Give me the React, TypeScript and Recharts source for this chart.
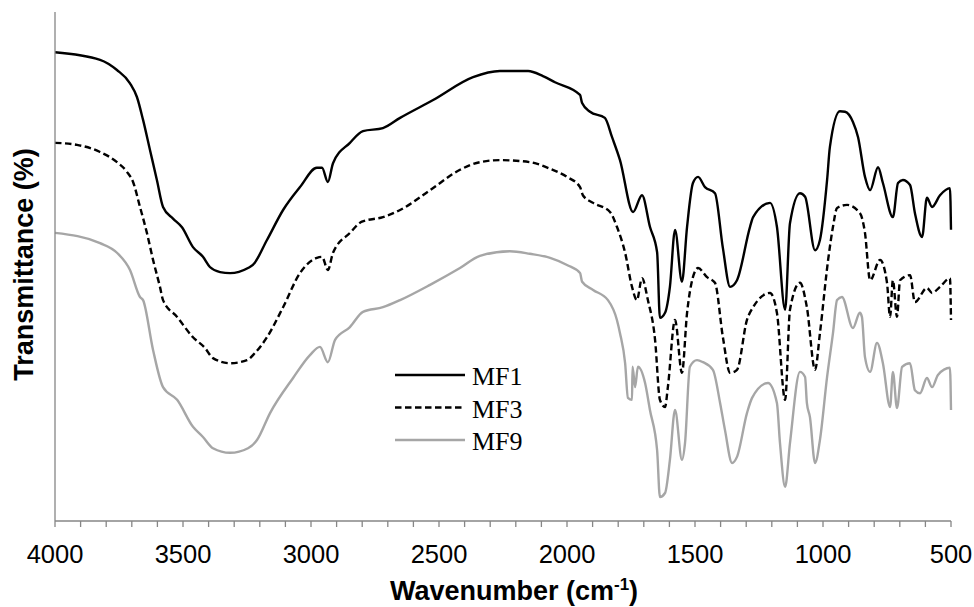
import React from 'react';
import { LineChart, Line, XAxis, YAxis, Legend } from 'recharts';

// [wavenumber (cm-1), transmittance (arbitrary %)]
const MF1: [number, number][] = [
  [4000, 92.1], [3824, 90.6], [3758, 88.6], [3707, 86.0], [3680, 83.3], [3656, 78.8], [3629, 72.9],
  [3602, 67.0], [3578, 61.7], [3539, 59.4], [3504, 57.7], [3461, 53.8], [3422, 51.9], [3395, 49.9],
  [3355, 48.9], [3316, 48.7], [3246, 49.7], [3227, 50.3], [3172, 55.2], [3109, 61.1], [3043, 65.6],
  [2977, 69.4], [2957, 69.4], [2934, 66.6], [2914, 70.3], [2848, 74.3], [2797, 76.6], [2719, 77.2],
  [2652, 79.2], [2523, 82.7], [2367, 87.2], [2262, 88.4], [2152, 88.4], [2094, 87.4], [2047, 86.2],
  [1949, 83.7], [1941, 82.1], [1910, 80.4], [1852, 79.2], [1824, 75.4], [1793, 70.9], [1742, 60.7],
  [1707, 64.0], [1676, 57.8], [1648, 52.8], [1637, 39.9], [1617, 40.9], [1598, 46.0], [1578, 57.2],
  [1551, 47.0], [1531, 57.8], [1508, 66.4], [1488, 67.6], [1461, 65.6], [1422, 64.4], [1391, 53.6],
  [1363, 46.0], [1336, 47.3], [1285, 57.8], [1273, 59.7], [1207, 62.5], [1180, 57.8], [1148, 41.5],
  [1129, 58.5], [1090, 64.4], [1070, 63.7], [1031, 53.2], [1012, 55.2], [984, 67.0], [973, 73.5],
  [934, 80.5], [914, 80.4], [883, 78.4], [863, 75.4], [836, 67.6], [816, 65.0], [785, 69.5],
  [766, 66.4], [727, 59.7], [707, 66.4], [688, 67.0], [660, 66.0], [641, 60.5], [613, 55.8],
  [594, 63.5], [574, 61.7], [543, 64.0], [504, 65.4], [500, 57.2],
];

const MF3: [number, number][] = [
  [4000, 74.3], [3914, 73.9], [3824, 72.5], [3758, 70.5], [3719, 68.6], [3695, 66.6], [3668, 61.7],
  [3641, 56.6], [3617, 51.3], [3590, 46.0], [3578, 43.4], [3523, 40.1], [3461, 36.1], [3414, 34.0],
  [3383, 32.0], [3316, 31.0], [3250, 31.6], [3219, 33.0], [3172, 36.1], [3109, 42.0], [3043, 48.7],
  [2977, 51.7], [2957, 51.9], [2934, 49.3], [2914, 52.7], [2848, 56.6], [2801, 58.8], [2719, 59.7],
  [2652, 61.1], [2535, 65.0], [2418, 69.0], [2340, 70.5], [2262, 70.9], [2145, 70.5], [2066, 69.2],
  [2000, 67.6], [1949, 65.6], [1938, 64.0], [1898, 62.5], [1832, 60.7], [1805, 57.8], [1773, 52.7],
  [1746, 46.0], [1727, 43.4], [1707, 47.7], [1684, 43.4], [1656, 35.6], [1637, 23.8], [1617, 22.4],
  [1606, 26.3], [1578, 39.5], [1551, 29.1], [1531, 40.9], [1508, 47.9], [1488, 49.7], [1453, 47.9],
  [1422, 46.8], [1391, 36.1], [1363, 29.1], [1336, 29.7], [1297, 39.5], [1273, 42.0], [1207, 44.8],
  [1180, 40.9], [1148, 23.8], [1129, 41.5], [1090, 46.8], [1063, 42.0], [1031, 29.7], [1012, 36.9],
  [980, 51.3], [961, 57.8], [945, 61.5], [906, 62.1], [856, 60.5], [836, 56.6], [816, 47.3],
  [777, 51.3], [750, 46.8], [738, 40.1], [727, 47.3], [711, 40.1], [699, 47.3], [660, 48.3],
  [641, 43.0], [594, 45.8], [574, 44.8], [543, 46.0], [504, 47.7], [500, 39.5],
];

const MF9: [number, number][] = [
  [4000, 56.6], [3824, 54.6], [3758, 52.7], [3707, 49.3], [3668, 44.0], [3656, 43.4], [3617, 33.6],
  [3578, 26.3], [3523, 23.8], [3461, 18.5], [3422, 16.5], [3383, 14.3], [3316, 13.4], [3246, 14.3],
  [3211, 15.9], [3160, 21.2], [3070, 28.1], [3004, 32.6], [2965, 34.2], [2934, 31.2], [2906, 35.6],
  [2848, 38.1], [2797, 41.1], [2719, 42.0], [2652, 43.4], [2535, 46.4], [2418, 49.7], [2340, 52.1],
  [2223, 53.0], [2145, 52.5], [2066, 51.7], [2000, 50.3], [1949, 48.7], [1941, 47.0], [1898, 45.4],
  [1840, 43.4], [1805, 39.5], [1793, 36.9], [1773, 31.0], [1762, 24.2], [1746, 23.8], [1744, 30.3],
  [1734, 26.3], [1723, 30.3], [1695, 27.1], [1676, 21.8], [1648, 13.9], [1637, 4.7], [1617, 5.5],
  [1598, 12.0], [1578, 21.8], [1551, 12.0], [1539, 15.3], [1520, 30.3], [1492, 31.6], [1469, 31.2],
  [1430, 29.7], [1402, 23.2], [1383, 17.9], [1355, 11.4], [1336, 12.6], [1297, 21.2], [1277, 24.2],
  [1215, 27.1], [1180, 23.2], [1168, 15.3], [1148, 6.7], [1129, 15.3], [1090, 29.3], [1070, 28.3],
  [1063, 23.2], [1051, 20.4], [1031, 11.4], [1012, 15.9], [984, 28.3], [961, 36.9], [945, 43.4],
  [926, 44.0], [883, 37.9], [856, 40.9], [848, 40.1], [836, 32.2], [816, 29.3], [789, 35.0],
  [766, 31.0], [738, 22.4], [727, 29.3], [711, 22.2], [691, 30.3], [660, 31.0], [641, 25.7],
  [621, 25.1], [594, 28.1], [574, 26.3], [551, 28.7], [504, 30.1], [500, 21.8],
];

const X_TICKS: number[] = [
  4000, 3900, 3800, 3700, 3600, 3500, 3400, 3300, 3200, 3100, 3000, 2900, 2800, 2700, 2600, 2500,
  2400, 2300, 2200, 2100, 2000, 1900, 1800, 1700, 1600, 1500, 1400, 1300, 1200, 1100, 1000, 900,
  800, 700, 600, 500,
];

const SERIES_NAMES = ['MF1', 'MF3', 'MF9'];
const SERIES_COLORS = ['#000000', '#000000', '#A6A6A6'];
const SERIES_DASH = ['', '6.5 3.5', ''];

const toRows = (arr: [number, number][]) => arr.map(([x, y]) => ({ x, y }));

const SANS = 'Liberation Sans, Arial, sans-serif';
const SERIF = 'Liberation Serif, Times New Roman, serif';
const AXIS_GRAY = '#868686';

const LegendBox = () => (
  <svg width={150} height={100} style={{ display: 'block' }}>
    {SERIES_NAMES.map((n, i) => {
      const y = 15 + i * 32.5;
      return (
        <g key={n}>
          <line x1={0} x2={70} y1={y} y2={y} stroke={SERIES_COLORS[i]} strokeWidth={2.5}
            strokeDasharray={SERIES_DASH[i] || undefined} />
          <text x={77} y={y + 10} fontFamily={SERIF} fontSize={26} fill="#000">{n}</text>
        </g>
      );
    })}
  </svg>
);

const YLabel = () => (
  <text x={33} y={264.5} transform="rotate(-90, 33, 264.5)" textAnchor="middle"
    fontFamily={SANS} fontWeight="bold" fontSize={27} fill="#000">
    Transmittance (%)
  </text>
);

const XLabel = () => (
  <text x={514} y={600} textAnchor="middle" fontFamily={SANS} fontWeight="bold" fontSize={27} fill="#000">
    Wavenumber (cm<tspan dy={-10} fontSize={17}>-1</tspan><tspan dy={10}>)</tspan>
  </text>
);

export default function App() {
  return (
    <div style={{ position: 'absolute', left: 0, top: 0, width: 974, height: 607, background: '#fff' }}>
      <LineChart width={974} height={607} margin={{ top: 12, right: 23, left: 45, bottom: 56 }}>
        <XAxis
          type="number"
          dataKey="x"
          domain={[500, 4000]}
          reversed
          ticks={X_TICKS}
          interval={0}
          height={30}
          tickSize={6}
          tickMargin={18}
          tickFormatter={(v: number) => (v % 500 === 0 ? String(v) : '')}
          tick={{ fontSize: 25.5, fill: '#000', fontFamily: SANS }}
          axisLine={{ stroke: AXIS_GRAY, strokeWidth: 1.3 }}
          tickLine={{ stroke: AXIS_GRAY, strokeWidth: 1.3 }}
          label={<XLabel />}
        />
        <YAxis
          type="number"
          domain={[0, 100]}
          width={10}
          tick={false}
          tickLine={false}
          axisLine={{ stroke: AXIS_GRAY, strokeWidth: 1.3 }}
          label={<YLabel />}
        />
        <Legend
          layout="vertical"
          align="center"
          verticalAlign="middle"
          content={() => <LegendBox />}
          wrapperStyle={{ left: 395, top: 360, width: 150, height: 100 }}
        />
        {[MF1, MF3, MF9].map((s, i) => (
          <Line
            key={SERIES_NAMES[i]}
            name={SERIES_NAMES[i]}
            data={toRows(s)}
            dataKey="y"
            type="monotoneX"
            stroke={SERIES_COLORS[i]}
            strokeWidth={2.4}
            strokeDasharray={SERIES_DASH[i] || undefined}
            strokeLinejoin="round"
            dot={false}
            activeDot={false}
            isAnimationActive={false}
          />
        ))}
      </LineChart>
    </div>
  );
}
